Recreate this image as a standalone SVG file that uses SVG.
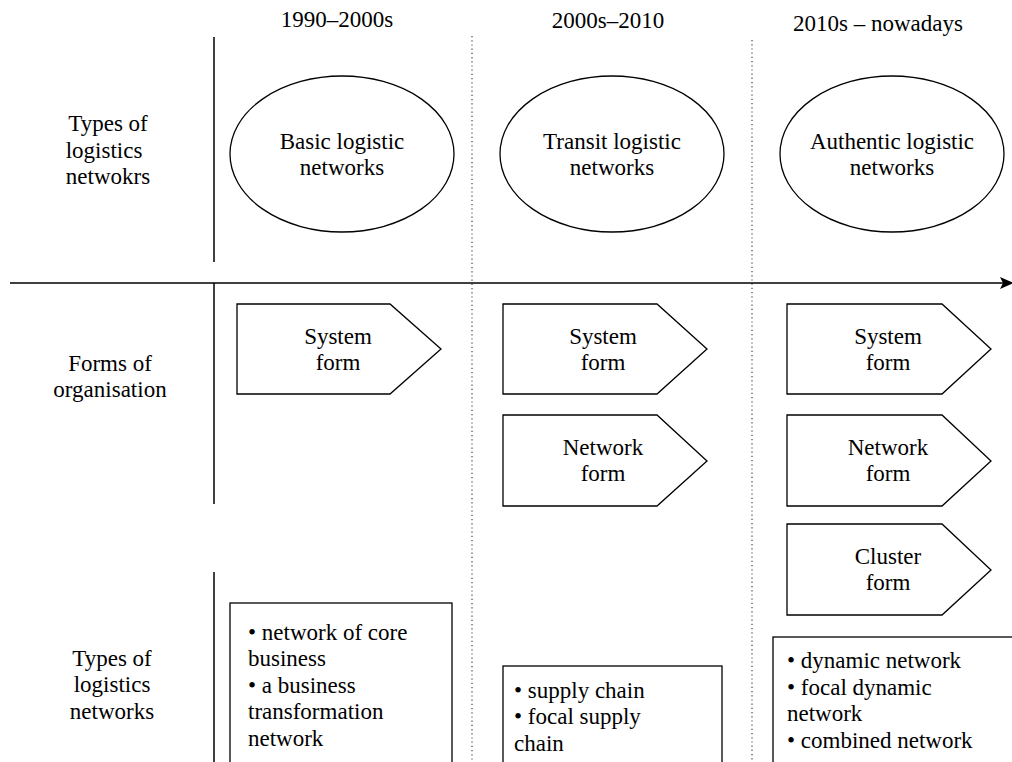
<svg xmlns="http://www.w3.org/2000/svg" width="1012" height="762" viewBox="0 0 1012 762" font-family="'Liberation Serif', 'Times New Roman', Times, 'DejaVu Serif', serif" font-size="23">
<style>
text{font-family:"Liberation Serif","Times New Roman",Times,"DejaVu Serif",serif;font-size:23px;fill:#000}
.c{text-anchor:middle}
.shape{fill:#fff;stroke:#000;stroke-width:1.3}
.axis{stroke:#000;stroke-width:1.5;fill:none}
.dot{stroke:#444;stroke-width:1.2;stroke-dasharray:1.2,3;fill:none}
</style>
<rect width="1012" height="762" fill="#fff"/>
<g id="connectors">
<line class="axis" x1="214" y1="37" x2="214" y2="262"/>
<line class="axis" x1="214" y1="283" x2="214" y2="504"/>
<line class="axis" x1="214" y1="572" x2="214" y2="762"/>
<line class="dot" x1="472" y1="36" x2="472" y2="762"/>
<line class="dot" x1="752" y1="40" x2="752" y2="762"/>
<line class="axis" x1="10" y1="283" x2="1004" y2="283"/>
<polygon points="1000,277 1014,283 1000,289 1003,283" fill="#000"/>
</g>
<g id="headers">
<text class="c" x="337" y="27">1990–2000s</text>
<text class="c" x="608" y="28">2000s–2010</text>
<text class="c" x="878" y="31">2010s – nowadays</text>
</g>
<g id="label-types-top">
<text class="c" x="108" y="131">Types of</text>
<text class="c" x="104" y="158">logistics</text>
<text class="c" x="108" y="184">netwokrs</text>
</g>
<g id="label-forms">
<text class="c" x="110" y="371">Forms of</text>
<text class="c" x="110" y="397">organisation</text>
</g>
<g id="label-types-bottom">
<text class="c" x="112" y="666">Types of</text>
<text class="c" x="112" y="692">logistics</text>
<text class="c" x="112" y="719">networks</text>
</g>
<g id="ellipse-basic">
<ellipse class="shape" cx="342" cy="154" rx="112" ry="78"/>
<text class="c" x="342" y="149">Basic logistic</text>
<text class="c" x="342" y="175">networks</text>
</g>
<g id="ellipse-transit">
<ellipse class="shape" cx="612" cy="154" rx="112" ry="78"/>
<text class="c" x="612" y="149">Transit logistic</text>
<text class="c" x="612" y="175">networks</text>
</g>
<g id="ellipse-authentic">
<ellipse class="shape" cx="892" cy="154" rx="112" ry="78"/>
<text class="c" x="892" y="149">Authentic logistic</text>
<text class="c" x="892" y="175">networks</text>
</g>
<g id="form-system-1">
<polygon class="shape" points="237,304 390,304 441,349 390,394 237,394"/>
<text class="c" x="338" y="344">System</text>
<text class="c" x="338" y="370">form</text>
</g>
<g id="form-system-2">
<polygon class="shape" points="503,304 657,304 707,349 657,394 503,394"/>
<text class="c" x="603" y="344">System</text>
<text class="c" x="603" y="370">form</text>
</g>
<g id="form-network-2">
<polygon class="shape" points="503,415 657,415 707,461 657,506 503,506"/>
<text class="c" x="603" y="455">Network</text>
<text class="c" x="603" y="481">form</text>
</g>
<g id="form-system-3">
<polygon class="shape" points="787,304 942,304 991,349 942,394 787,394"/>
<text class="c" x="888" y="344">System</text>
<text class="c" x="888" y="370">form</text>
</g>
<g id="form-network-3">
<polygon class="shape" points="787,415 942,415 991,461 942,506 787,506"/>
<text class="c" x="888" y="455">Network</text>
<text class="c" x="888" y="481">form</text>
</g>
<g id="form-cluster-3">
<polygon class="shape" points="787,524 942,524 991,570 942,615 787,615"/>
<text class="c" x="888" y="564">Cluster</text>
<text class="c" x="888" y="590">form</text>
</g>
<g id="box-basic">
<rect class="shape" x="230" y="603" width="222" height="170"/>
<text x="248" y="640">• network of core</text>
<text x="248" y="666">business</text>
<text x="248" y="693">• a business</text>
<text x="248" y="719">transformation</text>
<text x="248" y="746">network</text>
</g>
<g id="box-transit">
<rect class="shape" x="503" y="666" width="219" height="110"/>
<text x="514" y="698">• supply chain</text>
<text x="514" y="724">• focal supply</text>
<text x="514" y="751">chain</text>
</g>
<g id="box-authentic">
<rect class="shape" x="773" y="637" width="250" height="140"/>
<text x="787" y="668">• dynamic network</text>
<text x="787" y="695">• focal dynamic</text>
<text x="787" y="721">network</text>
<text x="787" y="748">• combined network</text>
</g>
</svg>
